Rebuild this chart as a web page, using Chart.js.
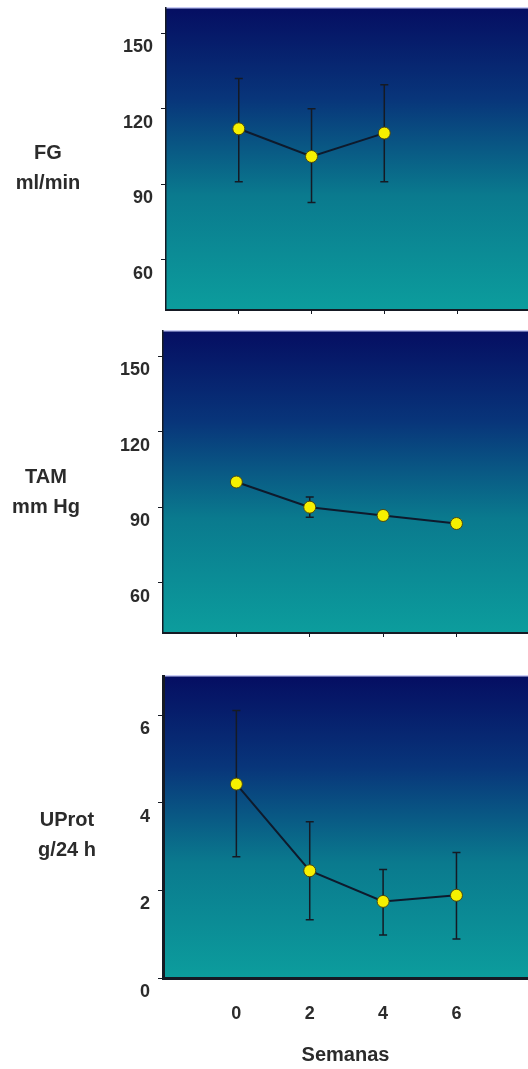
<!DOCTYPE html>
<html>
<head>
<meta charset="utf-8">
<script src="https://cdn.jsdelivr.net/npm/chart.js@4"></script>
<style>
  html, body { margin: 0; padding: 0; background: #fff; }
  body { width: 528px; height: 1069px; position: relative; overflow: hidden; }
  .panel { position: absolute; left: 0; width: 528px; }
</style>
</head>
<body>
<div class="panel" style="top:0;height:322px"><canvas id="fg" width="528" height="322"></canvas></div>
<div class="panel" style="top:322px;height:330px"><canvas id="tam" width="528" height="330"></canvas></div>
<div class="panel" style="top:652px;height:417px"><canvas id="uprot" width="528" height="417"></canvas></div>
<script>
// semanas
const weeks = [0, 2, 4, 6];
const weekTicks = [0, 2, 4, 6];

// FG ml/min (no week 6 value)
const fgMean  = [112, 101, 110.3];
const fgUpper = [132, 120, 129.5];
const fgLower = [91, 82.7, 91];

// TAM mm Hg
const tamMean  = [100, 90, 86.7, 83.5];
const tamUpper = [101, 94, 87.5, 84.3];
const tamLower = [99, 86, 85.9, 82.7];

// UProt g/24 h
const upMean  = [4.43, 2.45, 1.75, 1.89];
const upUpper = [6.11, 3.57, 2.48, 2.87];
const upLower = [2.77, 1.33, 0.98, 0.89];

const pressTicks = [60, 90, 120, 150];
const protTicks = [0, 2, 4, 6];

const FONT = "'Liberation Sans', Arial, sans-serif";
const TEXT = "#2b2b2b";
const AXIS = "#151a24";

// gradient panel behind the plot
const bgPlugin = {
  id: "panelBg",
  beforeDraw(chart) {
    const { ctx, chartArea: a } = chart;
    const g = ctx.createLinearGradient(0, a.top, 0, a.bottom);
    g.addColorStop(0, "#050e62");
    g.addColorStop(0.3, "#08357a");
    g.addColorStop(0.62, "#0a7a8e");
    g.addColorStop(1, "#0c9d9d");
    ctx.save();
    ctx.fillStyle = g;
    ctx.fillRect(a.left, a.top, a.right - a.left, a.bottom - a.top);
    ctx.fillStyle = "#c9cdf5";
    ctx.fillRect(a.left, a.top - 1, a.right - a.left, 1.5);
    ctx.restore();
  }
};

// vertical error bars, drawn under the markers
const errPlugin = {
  id: "errBars",
  beforeDatasetsDraw(chart, args, opts) {
    const { ctx, scales: { x, y } } = chart;
    ctx.save();
    ctx.strokeStyle = AXIS;
    ctx.lineWidth = 1.5;
    opts.upper.forEach((hi, i) => {
      const px = x.getPixelForValue(weeks[i]);
      const t = y.getPixelForValue(hi), b = y.getPixelForValue(opts.lower[i]);
      ctx.beginPath();
      ctx.moveTo(px, t); ctx.lineTo(px, b);
      ctx.moveTo(px - 4, t); ctx.lineTo(px + 4, t);
      ctx.moveTo(px - 4, b); ctx.lineTo(px + 4, b);
      ctx.stroke();
    });
    ctx.restore();
  }
};

// two-line label on the left of each panel
const sidePlugin = {
  id: "sideLabel",
  afterDraw(chart, args, opts) {
    const { ctx } = chart;
    ctx.save();
    ctx.fillStyle = TEXT;
    ctx.font = "bold 20px " + FONT;
    ctx.textAlign = "center";
    ctx.textBaseline = "middle";
    opts.lines.forEach((s, i) => ctx.fillText(s, opts.x, opts.y + i * 30));
    ctx.restore();
  }
};

function noPad(s) {
  s.paddingTop = 0; s.paddingBottom = 0; s.paddingLeft = 0; s.paddingRight = 0;
}

function makeChart(id, cfg) {
  const pts = cfg.mean.map((v, i) => ({ x: weeks[i], y: v }));
  return new Chart(document.getElementById(id), {
    type: "line",
    data: {
      datasets: [{
        data: pts,
        borderColor: "#0e1a2c",
        borderWidth: 2,
        pointRadius: 6,
        pointBackgroundColor: "#f6f000",
        pointBorderColor: "#4a4812",
        pointBorderWidth: 1,
        tension: 0,
      }]
    },
    options: {
      responsive: false,
      animation: false,
      layout: { autoPadding: false, padding: { top: cfg.top, right: 0, left: 0, bottom: 0 } },
      plugins: {
        legend: { display: false },
        tooltip: { enabled: false },
        errBars: { upper: cfg.upper, lower: cfg.lower },
        sideLabel: cfg.side,
      },
      scales: {
        x: {
          type: "linear", min: -2, max: 7.95,
          afterBuildTicks: s => { s.ticks = weekTicks.map(v => ({ value: v })); },
          afterFit: s => { s.height = cfg.xh; noPad(s); },
          grid: { display: !cfg.xlabels, drawOnChartArea: false, drawTicks: true, tickLength: 4, color: AXIS, lineWidth: 1 },
          border: { display: true, color: AXIS, width: cfg.xlabels ? 3 : 2 },
          ticks: {
            display: cfg.xlabels, padding: 21, color: TEXT,
            font: { family: FONT, size: 18, weight: "bold" },
          },
          title: {
            display: cfg.xlabels, text: "Semanas", color: TEXT,
            font: { family: FONT, size: 20, weight: "bold" },
            padding: { top: 0, bottom: 2 },
          },
        },
        y: {
          min: cfg.ymin, max: cfg.ymax,
          afterBuildTicks: s => { s.ticks = cfg.yticks.map(v => ({ value: v })); },
          afterFit: s => { s.width = cfg.left; noPad(s); },
          grid: { drawOnChartArea: false, drawTicks: true, tickLength: 5, color: AXIS, lineWidth: 1 },
          border: { display: true, color: AXIS, width: cfg.xlabels ? 3 : 1.5 },
          ticks: {
            padding: 8, labelOffset: 14, color: TEXT,
            font: { family: FONT, size: 18, weight: "bold" },
          },
        },
      }
    },
    plugins: [bgPlugin, errPlugin, sidePlugin]
  });
}

makeChart("fg", {
  mean: fgMean, upper: fgUpper, lower: fgLower,
  top: 8, xh: 12, left: 166, ymin: 40, ymax: 160, yticks: pressTicks, xlabels: false,
  side: { lines: ["FG", "ml/min"], x: 48, y: 153 },
});
makeChart("tam", {
  mean: tamMean, upper: tamUpper, lower: tamLower,
  top: 9, xh: 19, left: 163, ymin: 40, ymax: 160, yticks: pressTicks, xlabels: false,
  side: { lines: ["TAM", "mm Hg"], x: 46, y: 155 },
});
makeChart("uprot", {
  mean: upMean, upper: upUpper, lower: upLower,
  top: 24, xh: 91, left: 163, ymin: 0, ymax: 6.9, yticks: protTicks, xlabels: true,
  side: { lines: ["UProt", "g/24 h"], x: 67, y: 168 },
});
</script>
</body>
</html>
